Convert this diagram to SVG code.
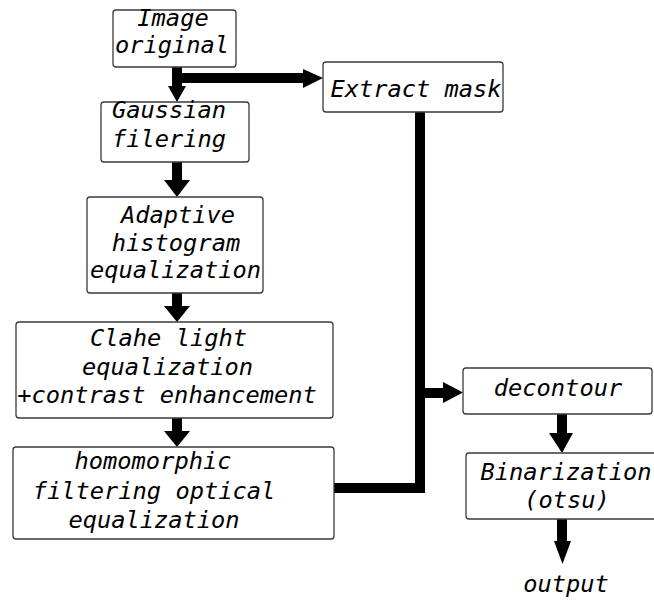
<svg xmlns="http://www.w3.org/2000/svg" width="654" height="602" viewBox="0 0 654 602">
  <style>
    .box { fill: #ffffff; stroke: #3a3a3a; stroke-width: 1.3; }
    .lbl { font-family: "DejaVu Sans Mono", "Liberation Mono", monospace; font-style: italic; font-size: 23.7px; fill: #000000; text-anchor: middle; }
    .wire { fill: none; stroke: #000000; stroke-width: 10; stroke-linejoin: miter; }
    .head { fill: #000000; }
  </style>
  <rect width="654" height="602" fill="#ffffff"/>

  <g id="connectors">
    <!-- Image original -> Gaussian filering -->
    <rect x="172" y="67" width="10" height="20" class="head"/>
    <polygon points="168,86 186,86 177,102" class="head"/>
    <!-- Image original -> Extract mask -->
    <rect x="180" y="73" width="124" height="10" class="head"/>
    <polygon points="303,69 303,88 323,78" class="head"/>
    <!-- Gaussian filering -> Adaptive histogram equalization -->
    <rect x="172" y="162" width="10" height="19" class="head"/>
    <polygon points="164,180 190,180 177,197" class="head"/>
    <!-- Adaptive histogram -> Clahe -->
    <rect x="172" y="293" width="10" height="14" class="head"/>
    <polygon points="164,306 190,306 177,322" class="head"/>
    <!-- Clahe -> homomorphic -->
    <rect x="172" y="418" width="10" height="14" class="head"/>
    <polygon points="164,431 190,431 177,447" class="head"/>
    <!-- Extract mask and homomorphic merge into decontour -->
    <path d="M420,112 V488 H334" class="wire"/>
    <rect x="420" y="388" width="24" height="10" class="head"/>
    <polygon points="443,382 443,403 463,392.5" class="head"/>
    <!-- decontour -> Binarization -->
    <rect x="557" y="414" width="10" height="20" class="head"/>
    <polygon points="549,433 573,433 562,453" class="head"/>
    <!-- Binarization -> output -->
    <rect x="557" y="519" width="10" height="23" class="head"/>
    <polygon points="554,541 571,541 562.5,564" class="head"/>
  </g>

  <g id="image-original">
    <rect x="113" y="10" width="123" height="57" rx="3" class="box"/>
    <text x="173" y="26" class="lbl">Image</text>
    <text x="172" y="53" class="lbl">original</text>
  </g>

  <g id="extract-mask">
    <rect x="323" y="62" width="180" height="50" rx="3" class="box"/>
    <text x="416" y="97" class="lbl">Extract mask</text>
  </g>

  <g id="gaussian-filering">
    <rect x="101" y="102" width="148" height="60" rx="3" class="box"/>
    <text x="169" y="118" class="lbl">Gaussian</text>
    <text x="169" y="147" class="lbl">filering</text>
  </g>

  <g id="adaptive-histogram">
    <rect x="87" y="197" width="176" height="96" rx="3" class="box"/>
    <text x="178" y="223" class="lbl">Adaptive</text>
    <text x="176" y="251" class="lbl">histogram</text>
    <text x="175.5" y="278" class="lbl">equalization</text>
  </g>

  <g id="clahe">
    <rect x="16" y="322" width="317" height="96" rx="3" class="box"/>
    <text x="168.5" y="346" class="lbl">Clahe light</text>
    <text x="167.5" y="375" class="lbl">equalization</text>
    <text x="167" y="403" class="lbl">+contrast enhancement</text>
  </g>

  <g id="homomorphic">
    <rect x="13" y="447" width="321" height="92" rx="3" class="box"/>
    <text x="153" y="469" class="lbl">homomorphic</text>
    <text x="154" y="499" class="lbl">filtering optical</text>
    <text x="154" y="528" class="lbl">equalization</text>
  </g>

  <g id="decontour">
    <rect x="463" y="368" width="189" height="46" rx="3" class="box"/>
    <text x="558" y="396" class="lbl">decontour</text>
  </g>

  <g id="binarization">
    <rect x="466" y="453" width="200" height="66" rx="3" class="box"/>
    <text x="566" y="480" class="lbl">Binarization</text>
    <text x="567" y="508" class="lbl">(otsu)</text>
  </g>

  <g id="output">
    <text x="566" y="592" class="lbl">output</text>
  </g>
</svg>
